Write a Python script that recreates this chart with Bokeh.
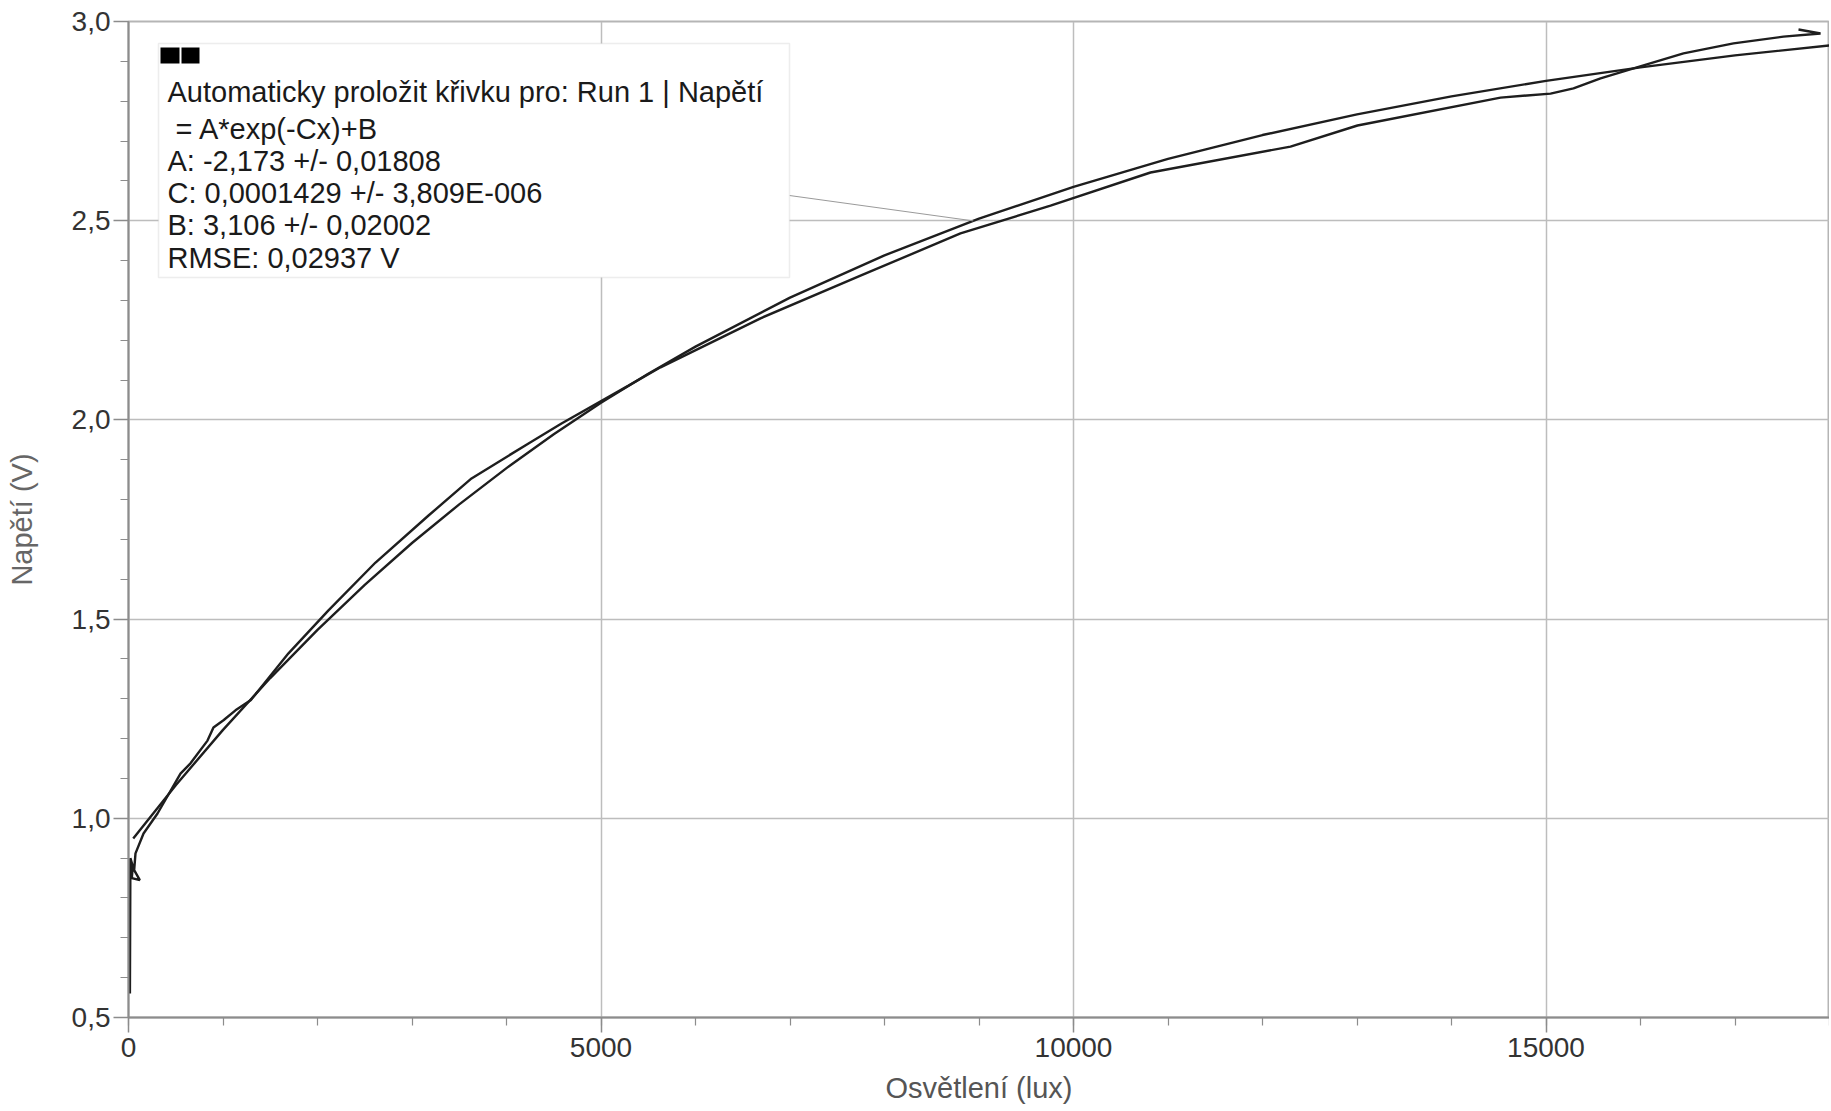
import numpy as np
from bokeh.plotting import figure
from bokeh.models import Range1d, SingleIntervalTicker, CustomJSTickFormatter, BoxAnnotation, Label
from bokeh.embed import file_html
from bokeh.resources import INLINE

# ---- data ----
# measured run (Osvětlení in lux, Napětí in V)
data_x = [15, 20, 45, 35, 120, 60, 74, 159, 307, 550, 656, 836, 899, 1005, 1132, 1291, 1693,
          2116, 2614, 3175, 3630, 4233, 4582, 5291, 5630, 6688, 7746, 8804, 9757, 10815,
          12296, 13005, 14519, 15048, 15291, 15577, 16032, 16455, 16984, 17513, 17905, 17672]
data_y = [0.56, 0.90, 0.88, 0.85, 0.845, 0.87, 0.912, 0.962, 1.012, 1.112, 1.138, 1.195, 1.228,
          1.246, 1.271, 1.296, 1.414, 1.522, 1.642, 1.760, 1.853, 1.941, 1.991, 2.086, 2.132,
          2.255, 2.362, 2.468, 2.538, 2.621, 2.686, 2.739, 2.809, 2.819, 2.832, 2.857, 2.890,
          2.920, 2.945, 2.962, 2.970, 2.980]

# fitted curve as drawn
fit_x = [50, 500, 1000, 1500, 2000, 2500, 3000, 3500, 4000, 4500, 5000, 5500, 6000, 7000, 8000,
         9000, 10000, 11000, 12000, 13000, 14000, 15000, 16000, 17000, 18000]
fit_y = [0.949, 1.083, 1.222, 1.352, 1.473, 1.586, 1.691, 1.788, 1.879, 1.964, 2.043, 2.116,
         2.184, 2.307, 2.413, 2.505, 2.585, 2.655, 2.715, 2.767, 2.812, 2.851, 2.885, 2.915, 2.940]

legend_lines = [
    "Automaticky proložit křivku pro: Run 1 | Napětí",
    "\u00a0= A*exp(-Cx)+B",
    "A: -2,173 +/- 0,01808",
    "C: 0,0001429 +/- 3,809E-006",
    "B: 3,106 +/- 0,02002",
    "RMSE: 0,02937 V",
]
x_label = "Osvětlení (lux)"
y_label = "Napětí (V)"

X_MIN, X_MAX = 0, 18000
Y_MIN, Y_MAX = 0.5, 3.0

# reference-pixel -> data helpers (for annotation placement)
def rx(X):
    return (X - 128) / (1829 - 128) * (X_MAX - X_MIN) + X_MIN

def ry(Y):
    return Y_MAX - (Y - 21) / (1017 - 21) * (Y_MAX - Y_MIN)

FONT = "Liberation Sans"

p = figure(width=1829, height=1109, output_backend="svg", toolbar_location=None,
           x_range=Range1d(X_MIN, X_MAX), y_range=Range1d(Y_MIN, Y_MAX),
           min_border_left=128, min_border_right=0, min_border_top=21, min_border_bottom=92)
p.background_fill_color = "white"
p.border_fill_color = "white"
p.outline_line_color = "#b5b5b5"
p.outline_line_width = 2

p.xaxis.ticker = SingleIntervalTicker(interval=5000, num_minor_ticks=5)
p.yaxis.ticker = SingleIntervalTicker(interval=0.5, num_minor_ticks=5)
p.xgrid.ticker = SingleIntervalTicker(interval=5000)
p.ygrid.ticker = SingleIntervalTicker(interval=0.5)
p.xaxis.formatter = CustomJSTickFormatter(code="return tick.toFixed(0);")
p.yaxis.formatter = CustomJSTickFormatter(code="return tick.toFixed(1).replace('.', ',');")

p.grid.grid_line_color = "#bdbdbd"
p.grid.grid_line_width = 1.5

p.axis.axis_line_color = "#8c8c8c"
p.axis.axis_line_width = 2
p.axis.major_tick_line_color = "#8c8c8c"
p.axis.major_tick_line_width = 1.5
p.axis.minor_tick_line_color = "#8c8c8c"
p.axis.minor_tick_line_width = 1.2
p.axis.major_tick_in = 0
p.axis.major_tick_out = 15
p.axis.minor_tick_in = 0
p.axis.minor_tick_out = 8
p.axis.major_label_text_font = FONT
p.axis.major_label_text_font_size = "28px"
p.axis.major_label_text_color = "#333333"
p.xaxis.major_label_standoff = 5
p.yaxis.major_label_standoff = 3

p.xaxis.axis_label = x_label
p.yaxis.axis_label = y_label
p.axis.axis_label_text_font = FONT
p.axis.axis_label_text_font_size = "29px"
p.axis.axis_label_text_font_style = "normal"
p.xaxis.axis_label_text_color = "#555555"
p.yaxis.axis_label_text_color = "#666666"
p.xaxis.axis_label_standoff = 12
p.yaxis.axis_label_standoff = 31

LINE_COLOR = "#1e1e1e"
p.line(fit_x, fit_y, line_color=LINE_COLOR, line_width=2.4)
p.line(data_x, data_y, line_color=LINE_COLOR, line_width=2.4)

# legend / fit info box
p.add_layout(BoxAnnotation(left=rx(158), right=rx(789), top=ry(43), bottom=ry(277),
                           fill_color="white", fill_alpha=1.0,
                           line_color="#c4c4c4", line_width=1.5))
p.add_layout(BoxAnnotation(left=rx(160), right=rx(179), top=ry(47), bottom=ry(63),
                           fill_color="black", fill_alpha=1.0, line_color=None))
p.add_layout(BoxAnnotation(left=rx(181), right=rx(199), top=ry(47), bottom=ry(63),
                           fill_color="black", fill_alpha=1.0, line_color=None))

line_centers = [91, 128, 160, 192, 224, 257]
for txt, yc in zip(legend_lines, line_centers):
    p.add_layout(Label(x=rx(167), y=ry(yc), text=txt, text_baseline="middle", text_align="left",
                       text_font=FONT, text_font_size="29px", text_color="#1a1a1a"))

# leader line from box to fitted curve
anchor_x = 8940
anchor_y = float(np.interp(anchor_x, fit_x, fit_y))
p.segment(x0=[rx(789)], y0=[ry(195)], x1=[anchor_x], y1=[anchor_y],
          line_color="#9a9a9a", line_width=1)

open("out.html", "w").write(file_html(p, INLINE))
